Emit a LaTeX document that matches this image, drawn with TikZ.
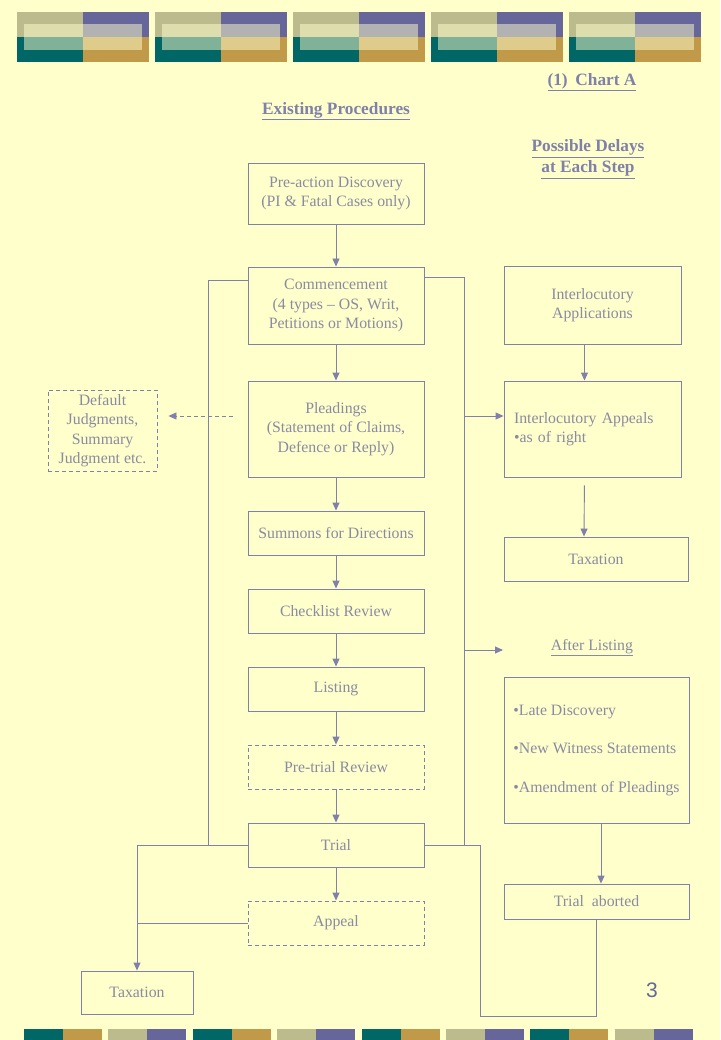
\documentclass[tikz,border=0pt]{standalone}
\usepackage{fontspec}
\setmainfont{Liberation Serif}
\newfontfamily\numfont{Liberation Sans}
\usetikzlibrary{arrows.meta, calc}
\definecolor{paper}{HTML}{FFFFCC}
\definecolor{ink}{RGB}{128,128,170}
\definecolor{inktext}{RGB}{138,138,162}
\definecolor{khaki}{RGB}{187,187,142}
\definecolor{plum}{RGB}{102,102,154}
\definecolor{sea}{RGB}{0,102,102}
\definecolor{ochre}{RGB}{192,154,72}

\begin{document}
\begin{tikzpicture}[x=1pt, y=-1pt,
box/.style = {draw=ink, line width=0.9pt, text=inktext, minimum width=176pt, minimum height=44pt,
	align=center, inner sep=2pt, font=\fontsize{15.8}{19.5}\selectfont},
dbox/.style = {box, dash pattern=on 4pt off 3pt},
link/.style = {draw=ink, line width=0.9pt},
arr/.style = {link, -{Triangle[length=8pt, width=7pt]}},
head/.style = {text=ink, font=\bfseries\fontsize{17.3}{21}\selectfont, align=center}
]
\useasboundingbox (0,0) rectangle (720,1040);
\fill[paper] (0,0) rectangle (720,1040);

% banner tiles
\foreach \i in {0,...,4}{
\begin{scope}[shift={(17+138*\i,12)}]
	\fill[khaki] (0,0) rectangle (66,25);
	\fill[plum] (66,0) rectangle (132,25);
	\fill[sea] (0,25) rectangle (66,50);
	\fill[ochre] (66,25) rectangle (132,50);
	\fill[paper, fill opacity=0.5] (7,12) rectangle (125,38);
\end{scope}
}
% foot strip
\foreach \i in {0,...,7}{
	\ifodd\i
		\fill[khaki] (24+84.4*\i,1029) rectangle +(39,11);
		\fill[plum] (63+84.4*\i,1029) rectangle +(39,11);
	\else
		\fill[sea] (24+84.4*\i,1029) rectangle +(39,11);
		\fill[ochre] (63+84.4*\i,1029) rectangle +(39,11);
	\fi
}

\node[head] (chart) at (592,82) {\underline{(1)\hspace{0.45em}Chart A}};
\node[head] (existing) at (336,111) {\underline{Existing Procedures}};
\node[head] (delays) at (588,159) {\underline{Possible Delays}\\\underline{at Each Step}};

% main column
\node[box, minimum height=61pt] (preaction) at (336,193.5) {Pre-action Discovery\\(PI \& Fatal Cases only)};
\node[box, minimum height=77pt] (commence) at (336,305.5) {Commencement\\(4 types -- OS, Writ,\\Petitions or Motions)};
\node[box, minimum height=96pt] (pleadings) at (336,429) {Pleadings\\(Statement of Claims,\\Defence or Reply)};
\node[box] (summons) at (336,533) {Summons for Directions};
\node[box] (checklist) at (336,611) {Checklist Review};
\node[box] (listing) at (336,689) {Listing};
\node[dbox] (pretrial) at (336,767) {Pre-trial Review};
\node[box] (trial) at (336,845) {Trial};
\node[dbox] (appeal) at (336,923) {Appeal};
\node[box, minimum width=112pt, minimum height=43pt] (taxleft) at (137,992.5) {Taxation};
\node[dbox, minimum width=109pt, minimum height=81pt] (default) at (102.5,430.5) {Default\\Judgments,\\Summary\\Judgment etc.};

% delays column
\node[box, minimum width=177pt, minimum height=78pt] (iapps) at (592.5,305) {Interlocutory\\Applications};
\node[box, minimum width=177pt, minimum height=96pt, text width=157pt, inner xsep=10pt, align=left] (iappeals) at (592.5,429) {Interlocutory Appeals\\•as of right};
\node[box, minimum width=184pt] (taxright) at (596,559) {Taxation};
\node[text=inktext, font=\fontsize{15.8}{19.5}\selectfont] (after) at (592,648) {\underline{After Listing}};
\node[box, minimum width=185pt, minimum height=146pt, align=left] (late) at (596.5,750)
	{•Late Discovery\\[19pt]•New Witness Statements\\[19pt]•Amendment of Pleadings};
\node[box, minimum width=185pt, minimum height=35pt] (aborted) at (596.5,901.5) {Trial \ aborted};
\node[text=plum, font=\numfont\fontsize{21}{24}\selectfont] (pageno) at (652,990) {3};

% main flow
\draw[arr] (preaction) -- (commence);
\draw[arr] (commence) -- (pleadings);
\draw[arr] (pleadings) -- (summons);
\draw[arr] (summons) -- (checklist);
\draw[arr] (checklist) -- (listing);
\draw[arr] (listing) -- (pretrial);
\draw[arr] (pretrial) -- (trial);
\draw[arr] (trial) -- (appeal);

% left loop
\coordinate (lbus) at (208,280);
\draw[link] (commence.west |- lbus) -- (lbus) -- (lbus |- trial.west);
\draw[arr] (trial.west) -| (taxleft.north);
\draw[link] (appeal.west) -- (appeal.west -| taxleft.north);
\coordinate (dstart) at (233,416);
\draw[arr, dash pattern=on 4pt off 3pt, shorten >=11pt] (dstart) -- (dstart -| default.east);

% right loop
\coordinate (rbus) at (464,277);
\draw[link] (commence.east |- rbus) -- (rbus) -- (rbus |- trial.east);
\coordinate (tapone) at (464,416);
\draw[arr] (tapone) -- (tapone -| iappeals.west);
\coordinate (taptwo) at (464,650);
\coordinate (aftertip) at (503,650);
\draw[arr] (taptwo) -- (aftertip);
\coordinate (rloop) at (480,1016);
\draw[link] (trial.east) -| (rloop) -| (aborted.south);

\draw[arr] ([xshift=-8pt]iapps.south) -- ([xshift=-8pt]iappeals.north);
\draw[arr, shorten <=8pt] ([xshift=-8pt]iappeals.south) -- ([xshift=-12pt]taxright.north);
\draw[arr] ([xshift=4.5pt]late.south) -- ([xshift=4.5pt]aborted.north);
\end{tikzpicture}
\end{document}
